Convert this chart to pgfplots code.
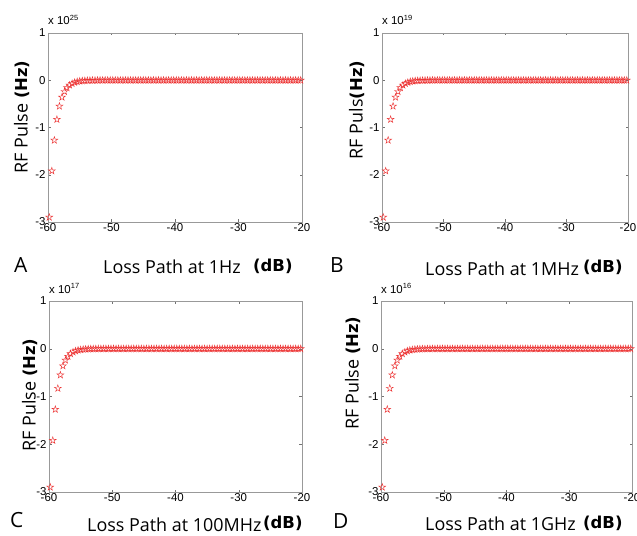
\documentclass[border=0pt]{standalone}
\usepackage{fontspec}
\setmainfont{Liberation Sans}
\newfontfamily\lblfont{Open Sans}
\newfontfamily\dvfont{DejaVu Sans}
\usepackage{pgfplots}
\usepackage{pgfplotstable}
\pgfplotsset{compat=1.18}
\definecolor{mred}{RGB}{236,50,50}

% MATLAB-like pentagram marker
\pgfdeclareplotmark{pentagram}{%
  \pgfpathmoveto{\pgfpointpolar{90}{\pgfplotmarksize}}%
  \pgfpathlineto{\pgfpointpolar{126}{0.382*\pgfplotmarksize}}%
  \pgfpathlineto{\pgfpointpolar{162}{\pgfplotmarksize}}%
  \pgfpathlineto{\pgfpointpolar{198}{0.382*\pgfplotmarksize}}%
  \pgfpathlineto{\pgfpointpolar{234}{\pgfplotmarksize}}%
  \pgfpathlineto{\pgfpointpolar{270}{0.382*\pgfplotmarksize}}%
  \pgfpathlineto{\pgfpointpolar{306}{\pgfplotmarksize}}%
  \pgfpathlineto{\pgfpointpolar{342}{0.382*\pgfplotmarksize}}%
  \pgfpathlineto{\pgfpointpolar{18}{\pgfplotmarksize}}%
  \pgfpathlineto{\pgfpointpolar{54}{0.382*\pgfplotmarksize}}%
  \pgfpathclose\pgfusepathqstroke}

% RF pulse (in units of the panel's power of ten) vs loss path (dB)
\pgfplotstableread[row sep=\\]{
x y\\
-59.8 -2.90\\ -59.4 -1.92\\ -59.0 -1.27\\ -58.6 -0.83\\ -58.2 -0.55\\
-57.8 -0.36\\ -57.4 -0.24\\ -57.0 -0.16\\ -56.6 -0.105\\ -56.2 -0.07\\
-55.8 -0.046\\ -55.4 -0.03\\ -55.0 -0.02\\ -54.6 -0.013\\ -54.2 -0.009\\
-53.8 -0.006\\ -53.4 -0.004\\ -53.0 -0.003\\ -52.6 -0.002\\ -52.2 -0.001\\
-51.8 0\\ -51.4 0\\ -51.0 0\\ -50.6 0\\ -50.2 0\\ -49.8 0\\ -49.4 0\\ -49.0 0\\ -48.6 0\\ -48.2 0\\
-47.8 0\\ -47.4 0\\ -47.0 0\\ -46.6 0\\ -46.2 0\\ -45.8 0\\ -45.4 0\\ -45.0 0\\ -44.6 0\\ -44.2 0\\
-43.8 0\\ -43.4 0\\ -43.0 0\\ -42.6 0\\ -42.2 0\\ -41.8 0\\ -41.4 0\\ -41.0 0\\ -40.6 0\\ -40.2 0\\
-39.8 0\\ -39.4 0\\ -39.0 0\\ -38.6 0\\ -38.2 0\\ -37.8 0\\ -37.4 0\\ -37.0 0\\ -36.6 0\\ -36.2 0\\
-35.8 0\\ -35.4 0\\ -35.0 0\\ -34.6 0\\ -34.2 0\\ -33.8 0\\ -33.4 0\\ -33.0 0\\ -32.6 0\\ -32.2 0\\
-31.8 0\\ -31.4 0\\ -31.0 0\\ -30.6 0\\ -30.2 0\\ -29.8 0\\ -29.4 0\\ -29.0 0\\ -28.6 0\\ -28.2 0\\
-27.8 0\\ -27.4 0\\ -27.0 0\\ -26.6 0\\ -26.2 0\\ -25.8 0\\ -25.4 0\\ -25.0 0\\ -24.6 0\\ -24.2 0\\
-23.8 0\\ -23.4 0\\ -23.0 0\\ -22.6 0\\ -22.2 0\\ -21.8 0\\ -21.4 0\\ -21.0 0\\ -20.6 0\\ -20.2 0\\
}\rfdata

\pgfplotsset{
  rfpanel/.style={
    scale only axis, anchor=south west, clip=false,
    xmin=-60, xmax=-20, ymin=-3, ymax=1,
    xtick={-60,-50,-40,-30,-20}, xticklabels={-60,-50,-40,-30,-20},
    ytick={-3,-2,-1,0,1}, yticklabels={-3,-2,-1,0,1},
    tick align=inside, major tick length=2.5bp,
    axis line style={black!40}, tick style={black!55},
    ticklabel style={font=\fontsize{11.5}{13}\selectfont},
    xticklabel style={yshift=2.5bp},
    yticklabel style={xshift=1bp},
  },
  rfmarks/.style={only marks, mark=pentagram, mark size=3.6bp, mred, line width=0.45pt},
}
\newcommand{\scl}[1]{\node[anchor=base west, inner sep=0, yshift=8bp,
  font=\fontsize{11.5}{13}\selectfont] at (rel axis cs:0,1)
  {x 10\raisebox{4.5bp}{\fontsize{7.5}{8}\selectfont #1}};}
\newcommand{\bld}{\dvfont\bfseries\fontsize{16.5}{18}\selectfont}
\newcommand{\lbl}{\lblfont\fontsize{18}{20}\selectfont}
\newcommand{\pan}{\lblfont\fontsize{21}{24}\selectfont}

\begin{document}
\begin{tikzpicture}
\useasboundingbox (0,0) rectangle (637bp,536bp);

% A
\begin{axis}[rfpanel, at={(48bp,314bp)}, width=254bp, height=189bp]
\addplot[rfmarks] table {\rfdata};
\scl{25}
\end{axis}
% B
\begin{axis}[rfpanel, at={(382bp,314bp)}, width=246bp, height=189bp]
\addplot[rfmarks] table {\rfdata};
\scl{19}
\end{axis}
% C
\begin{axis}[rfpanel, at={(49bp,44bp)}, width=253bp, height=191bp]
\addplot[rfmarks] table {\rfdata};
\scl{17}
\end{axis}
% D
\begin{axis}[rfpanel, at={(381bp,44bp)}, width=251bp, height=191bp]
\addplot[rfmarks] table {\rfdata};
\scl{16}
\end{axis}

% y labels
\node[rotate=90] at (22bp,419bp) {\lbl RF Pulse \bld(Hz)};
\node[rotate=90] at (357bp,426bp) {\lbl RF Puls\bld(Hz)};
\node[rotate=90] at (30bp,141bp) {\lbl RF Pulse \bld(Hz)};
\node[rotate=90] at (353bp,163bp) {\lbl RF Pulse \bld(Hz)};

% x labels
\node[anchor=base west, inner sep=0] at (103bp,262bp) {\lbl Loss Path at 1Hz};
\node[anchor=base west, inner sep=0] at (253bp,264bp) {\bld(dB)};
\node[anchor=base west, inner sep=0] at (425bp,260bp) {\lbl Loss Path at 1MHz};
\node[anchor=base west, inner sep=0] at (583bp,263bp) {\bld(dB)};
\node[anchor=base west, inner sep=0] at (87bp,5bp) {\lbl Loss Path at 100MHz};
\node[anchor=base west, inner sep=0] at (263bp,8bp) {\bld(dB)};
\node[anchor=base west, inner sep=0] at (425bp,6bp) {\lbl Loss Path at 1GHz};
\node[anchor=base west, inner sep=0] at (583bp,8bp) {\bld(dB)};

% panel letters
\node[anchor=base west, inner sep=0] at (14bp,263bp) {\pan A};
\node[anchor=base west, inner sep=0] at (330bp,263bp) {\pan B};
\node[anchor=base west, inner sep=0] at (10bp,9bp) {\pan C};
\node[anchor=base west, inner sep=0] at (333bp,8bp) {\pan D};
\end{tikzpicture}
\end{document}
